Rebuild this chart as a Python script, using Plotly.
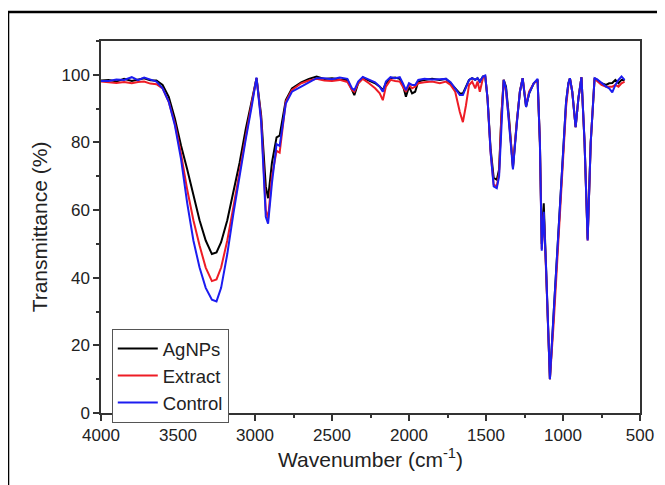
import plotly.graph_objects as go

# FTIR spectra
wavenumber = [4000, 3950, 3900, 3850, 3800, 3760, 3720, 3680, 3640, 3600, 3560, 3520, 3480, 3440,
              3400, 3360, 3320, 3280, 3250, 3220, 3180, 3140, 3100, 3060, 3020, 2990, 2960, 2930,
              2915, 2890, 2860, 2840, 2800, 2760, 2700, 2650, 2600, 2550, 2500, 2450, 2400, 2370,
              2355, 2330, 2300, 2260, 2220, 2190, 2170, 2150, 2120, 2090, 2060, 2040, 2020, 2000,
              1980, 1960, 1940, 1900, 1850, 1800, 1760, 1730, 1700, 1670, 1650, 1630, 1610, 1590,
              1570, 1555, 1540, 1520, 1505, 1490, 1470, 1450, 1430, 1415, 1400, 1385, 1370, 1350,
              1325, 1300, 1280, 1262, 1240, 1220, 1190, 1165, 1150, 1138, 1125, 1110, 1085, 1060,
              1040, 1020, 1000, 980, 965, 955, 940, 918, 900, 880, 860, 840, 820, 795, 780, 750,
              720, 700, 680, 660, 640, 620, 600]

agnps = [98.3, 98.5, 98.0, 98.8, 98.2, 98.6, 99.0, 98.4, 98.3, 97.0, 93.5, 87.0, 79.0, 72.0,
         64.0, 57.0, 51.0, 47.0, 47.5, 50.5, 57.0, 65.5, 74.0, 84.0, 93.0, 99.0, 88.0, 67.0,
         63.5, 74.0, 81.5, 82.0, 92.5, 96.0, 97.8, 98.8, 99.5, 98.8, 99.0, 98.6, 98.5, 95.5,
         94.0, 97.5, 99.2, 98.3, 97.5, 96.5, 95.5, 97.5, 99.0, 99.2, 98.8, 97.0, 93.5, 96.5,
         94.5, 95.0, 98.0, 98.5, 98.8, 98.5, 98.8, 97.5, 96.0, 94.5, 94.5, 96.5, 98.5, 99.0,
         98.5, 99.0, 98.0, 99.5, 99.5, 93.0, 78.0, 69.5, 69.0, 72.0, 88.0, 98.5, 96.5, 87.0,
         72.5, 86.0, 95.0, 99.0, 90.5, 94.5, 97.5, 98.5, 80.0, 50.0, 62.0, 43.0, 10.0, 30.0,
         46.0, 62.0, 78.0, 92.0, 97.5, 99.0, 95.0, 84.5, 93.0, 99.3, 80.0, 51.5, 80.0, 99.0,
         98.5, 97.5, 97.0, 97.5, 97.6, 98.5, 97.5, 98.5, 98.5]

extract = [98.0, 97.8, 97.6, 97.9, 97.5, 97.9, 98.0, 97.4, 97.2, 96.0, 92.0, 85.5, 76.5, 66.0,
           57.0, 49.5, 43.0, 39.0, 39.5, 43.0, 51.0, 61.0, 71.5, 82.0, 92.0, 99.0, 87.0, 60.0,
           57.5, 70.0, 77.5, 77.0, 92.0, 95.5, 97.5, 98.3, 98.8, 98.3, 98.2, 98.5, 97.9, 95.5,
           95.0, 97.5, 98.8, 97.5, 96.0, 94.5, 92.5, 96.5, 98.5, 98.2, 98.0, 96.5, 95.0, 97.0,
           96.0, 96.5, 97.5, 97.8, 98.0, 97.5, 98.0, 97.0, 95.0, 89.0, 86.0, 91.0, 97.0, 98.0,
           96.0, 98.0, 95.0, 99.0, 99.8, 93.0, 77.0, 67.5, 67.0, 71.0, 88.0, 98.5, 95.0, 86.0,
           73.0, 86.0, 95.0, 99.0, 91.0, 95.0, 97.5, 98.5, 80.0, 48.5, 59.0, 42.0, 10.0, 27.0,
           42.0, 58.0, 75.0, 90.5, 97.0, 99.0, 95.0, 84.5, 93.0, 99.3, 80.0, 51.0, 80.0, 99.0,
           98.2, 97.0, 96.5, 96.5, 96.5, 97.0, 96.5, 97.5, 98.0]

control = [98.2, 98.2, 98.6, 98.5, 99.3, 98.4, 99.2, 98.6, 98.0, 96.0, 92.0, 85.0, 75.0, 62.0,
           51.0, 43.0, 37.0, 33.5, 33.0, 37.0, 47.0, 59.0, 70.5, 81.0, 91.0, 99.2, 86.0, 58.0,
           56.0, 68.0, 79.5, 79.0, 91.5, 95.0, 96.5, 97.8, 99.0, 99.0, 98.7, 99.2, 98.8, 96.0,
           95.5, 98.0, 99.4, 98.6, 97.8, 96.5, 95.0, 98.0, 99.3, 99.0, 99.3, 97.5, 95.5, 97.5,
           97.0, 97.0, 98.5, 98.8, 98.6, 98.7, 98.8, 97.8, 96.0, 94.0, 94.0, 96.0, 98.5, 99.0,
           98.5, 99.0, 98.0, 99.5, 99.8, 93.0, 77.0, 67.0, 66.5, 70.0, 87.0, 98.5, 96.0, 86.0,
           72.0, 85.5, 95.0, 99.0, 90.5, 94.5, 97.5, 98.8, 80.0, 48.0, 59.5, 43.0, 10.0, 30.0,
           46.0, 62.0, 78.0, 92.0, 97.5, 99.0, 95.0, 84.5, 93.0, 99.3, 80.0, 51.0, 80.0, 99.0,
           98.7, 97.5, 96.5, 96.0, 94.8, 97.0, 98.5, 99.5, 98.5]

series = [("AgNPs", agnps, "#000000"),
          ("Extract", extract, "#ee1c25"),
          ("Control", control, "#1c1cf0")]

fig = go.Figure()
for name, vals, col in series:
    fig.add_trace(go.Scatter(x=wavenumber, y=vals, mode="lines", name=name,
                             line=dict(color=col, width=2)))

font_family = "Liberation Sans, Arial"
axis_style = dict(showline=True, linecolor="#333333", linewidth=1.5, mirror=True,
                  ticks="outside", ticklen=6, tickwidth=1.5, tickcolor="#333333",
                  showgrid=False, zeroline=False,
                  tickfont=dict(family=font_family, size=17, color="#222222"))

fig.update_xaxes(range=[4000, 500], dtick=500, tick0=500,
                 minor=dict(ticks="outside", ticklen=3, tickwidth=1.5, tickcolor="#333333", dtick=250),
                 title=dict(text="Wavenumber (cm<sup>-1</sup>)", standoff=6,
                            font=dict(family=font_family, size=21, color="#222222")),
                 **axis_style)
fig.update_yaxes(range=[0, 110], dtick=20, tick0=0,
                 minor=dict(ticks="outside", ticklen=3, tickwidth=1.5, tickcolor="#333333", dtick=10),
                 title=dict(text="Transmittance (%)", standoff=8,
                            font=dict(family=font_family, size=21, color="#222222")),
                 **axis_style)

# outer frame of the figure panel
fig.add_shape(type="rect", xref="paper", yref="paper",
              x0=-0.1725, x1=1.1, y0=-0.25, y1=1.078,
              line=dict(color="#000000", width=2.5))

# page body has an 8px margin, so the margins are shifted by 8px
fig.update_layout(
    width=665, height=485,
    margin=dict(l=93, r=33, t=33, b=80),
    paper_bgcolor="white", plot_bgcolor="white",
    font=dict(family=font_family, color="#222222"),
    legend=dict(x=0.02, y=0.226, xanchor="left", yanchor="top",
                bgcolor="white", bordercolor="#555555", borderwidth=1,
                font=dict(size=18.5), tracegroupgap=0, itemwidth=40),
)

fig.write_html("out.html")
